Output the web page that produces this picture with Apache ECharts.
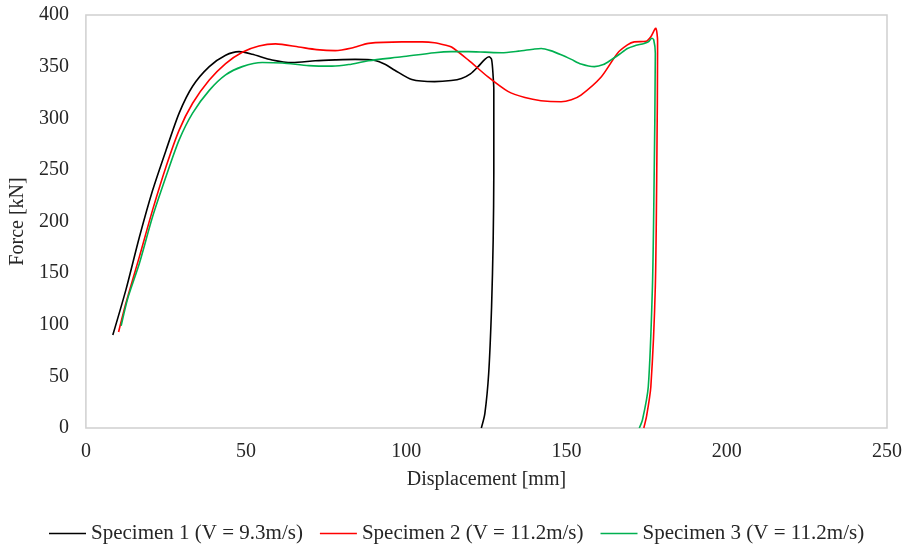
<!DOCTYPE html>
<html>
<head>
<meta charset="utf-8">
<script src="https://cdn.jsdelivr.net/npm/echarts@6/dist/echarts.min.js"></script>
<style>
  html, body { margin: 0; padding: 0; background: #fff; }
  #chart { width: 912px; height: 545px; }
</style>
</head>
<body>
<div id="chart"></div>
<script>
// Force-displacement curves, [displacement mm, force kN]
const seriesNames = [
  'Specimen 1 (V = 9.3m/s)',
  'Specimen 2 (V = 11.2m/s)',
  'Specimen 3 (V = 11.2m/s)'
];

const specimen1 = [
  [8.4, 90], [12.5, 134], [16.7, 185], [20.8, 230], [25, 269], [29.1, 305],
  [33.3, 331], [38.5, 350], [43.6, 361], [47.8, 364.5], [51.9, 362],
  [58.1, 356.5], [64.4, 354], [71.6, 355.7], [77.8, 356.5], [84, 357],
  [90.2, 356], [93.5, 352], [96.4, 346.5], [101.7, 337.5], [108.8, 335.5],
  [114, 336.5], [117.2, 338.5], [120, 343], [122.4, 350], [124.5, 357],
  [125.8, 359.5], [126.6, 357], [127.1, 340], [127.3, 327], [127.3, 247],
  [127.1, 182], [126.6, 117.5], [125.7, 53], [124.5, 14], [123.4, 0]
];

const specimen2 = [
  [10.2, 93], [12.5, 121], [16.7, 166], [20.8, 211], [25, 253], [29.1, 288.5],
  [33.3, 314.5], [38.5, 337], [43.6, 353], [48.8, 364], [54, 370], [59.2, 372],
  [66.4, 369], [72, 366.5], [77.8, 365.5], [83, 368], [88.2, 372.5],
  [98.6, 374], [105, 374], [108.8, 373.2], [112, 371], [114.1, 369],
  [119.3, 356.5], [125.5, 340], [131.7, 326], [137, 320], [142, 317],
  [148.3, 316], [151.5, 318], [154.5, 322.5], [160.8, 340], [165.9, 363],
  [169, 371], [171.1, 374], [174.8, 374.5], [176.3, 379], [177.5, 386],
  [177.9, 387], [178.4, 375], [178.4, 363], [178.2, 266], [177.7, 137],
  [176.3, 40], [175, 12], [174.1, 0]
];

const specimen3 = [
  [11, 99], [13, 125], [16.7, 159.5], [20.8, 204.5], [25, 243.5], [29.1, 279],
  [33.3, 305], [38.5, 327], [43.6, 342], [48.8, 350], [55, 354], [61.3, 353.5],
  [69.6, 351], [76.8, 350.5], [82, 352], [88.2, 355.7], [98.6, 359.5],
  [108.8, 363.5], [114, 364.5], [119.3, 364.5], [124.5, 364], [129.7, 363.5],
  [135, 365], [140, 367], [142.1, 367.5], [145, 365.5], [148.3, 361.5],
  [151.5, 357], [154.5, 352.5], [158.7, 350], [161.5, 352], [163.9, 356.5],
  [166.5, 362], [169, 367.5], [171.1, 370], [174.2, 372.5], [175.5, 374],
  [176.6, 377.5], [177.2, 376], [177.7, 363], [177.3, 234], [176.8, 137],
  [175.5, 40], [173.7, 8], [172.7, 0]
];

const seriesColors = ['#000000', '#ff0000', '#00b050'];
const seriesData = [specimen1, specimen2, specimen3];

const fontFamily = '"Liberation Serif", "Times New Roman", serif';
const textColor = '#262626';

const chart = echarts.init(document.getElementById('chart'), null, { renderer: 'canvas' });

chart.setOption({
  animation: false,
  backgroundColor: '#ffffff',
  grid: {
    left: 83, right: 25, top: 15, bottom: 117,
    show: true, borderColor: '#d0d0d0', borderWidth: 1.5, containLabel: false
  },
  legend: {
    data: seriesNames,
    left: 49,
    top: 523,
    padding: 0,
    icon: 'rect',
    itemWidth: 37,
    itemHeight: 1.5,
    itemGap: 17,
    textStyle: { fontFamily: fontFamily, fontSize: 21, color: textColor }
  },
  xAxis: {
    type: 'value',
    min: 0, max: 250, interval: 50,
    name: 'Displacement [mm]',
    nameLocation: 'middle',
    nameGap: 42,
    nameTextStyle: { fontFamily: fontFamily, fontSize: 20, color: textColor },
    axisLine: { show: false },
    axisTick: { show: false },
    splitLine: { show: false },
    axisLabel: { margin: 14, fontFamily: fontFamily, fontSize: 20, color: textColor }
  },
  yAxis: {
    type: 'value',
    min: 0, max: 400, interval: 50,
    name: 'Force [kN]',
    nameLocation: 'middle',
    nameGap: 56,
    nameTextStyle: { fontFamily: fontFamily, fontSize: 20, color: textColor },
    axisLine: { show: false },
    axisTick: { show: false },
    splitLine: { show: false },
    axisLabel: { margin: 17, fontFamily: fontFamily, fontSize: 20, color: textColor }
  },
  series: seriesNames.map((name, i) => ({
    name: name,
    type: 'line',
    data: seriesData[i],
    smooth: 0.25,
    symbol: 'none',
    showSymbol: false,
    color: seriesColors[i],
    lineStyle: { color: seriesColors[i], width: 1.6 },
    itemStyle: { color: seriesColors[i] }
  }))
});
</script>
</body>
</html>
